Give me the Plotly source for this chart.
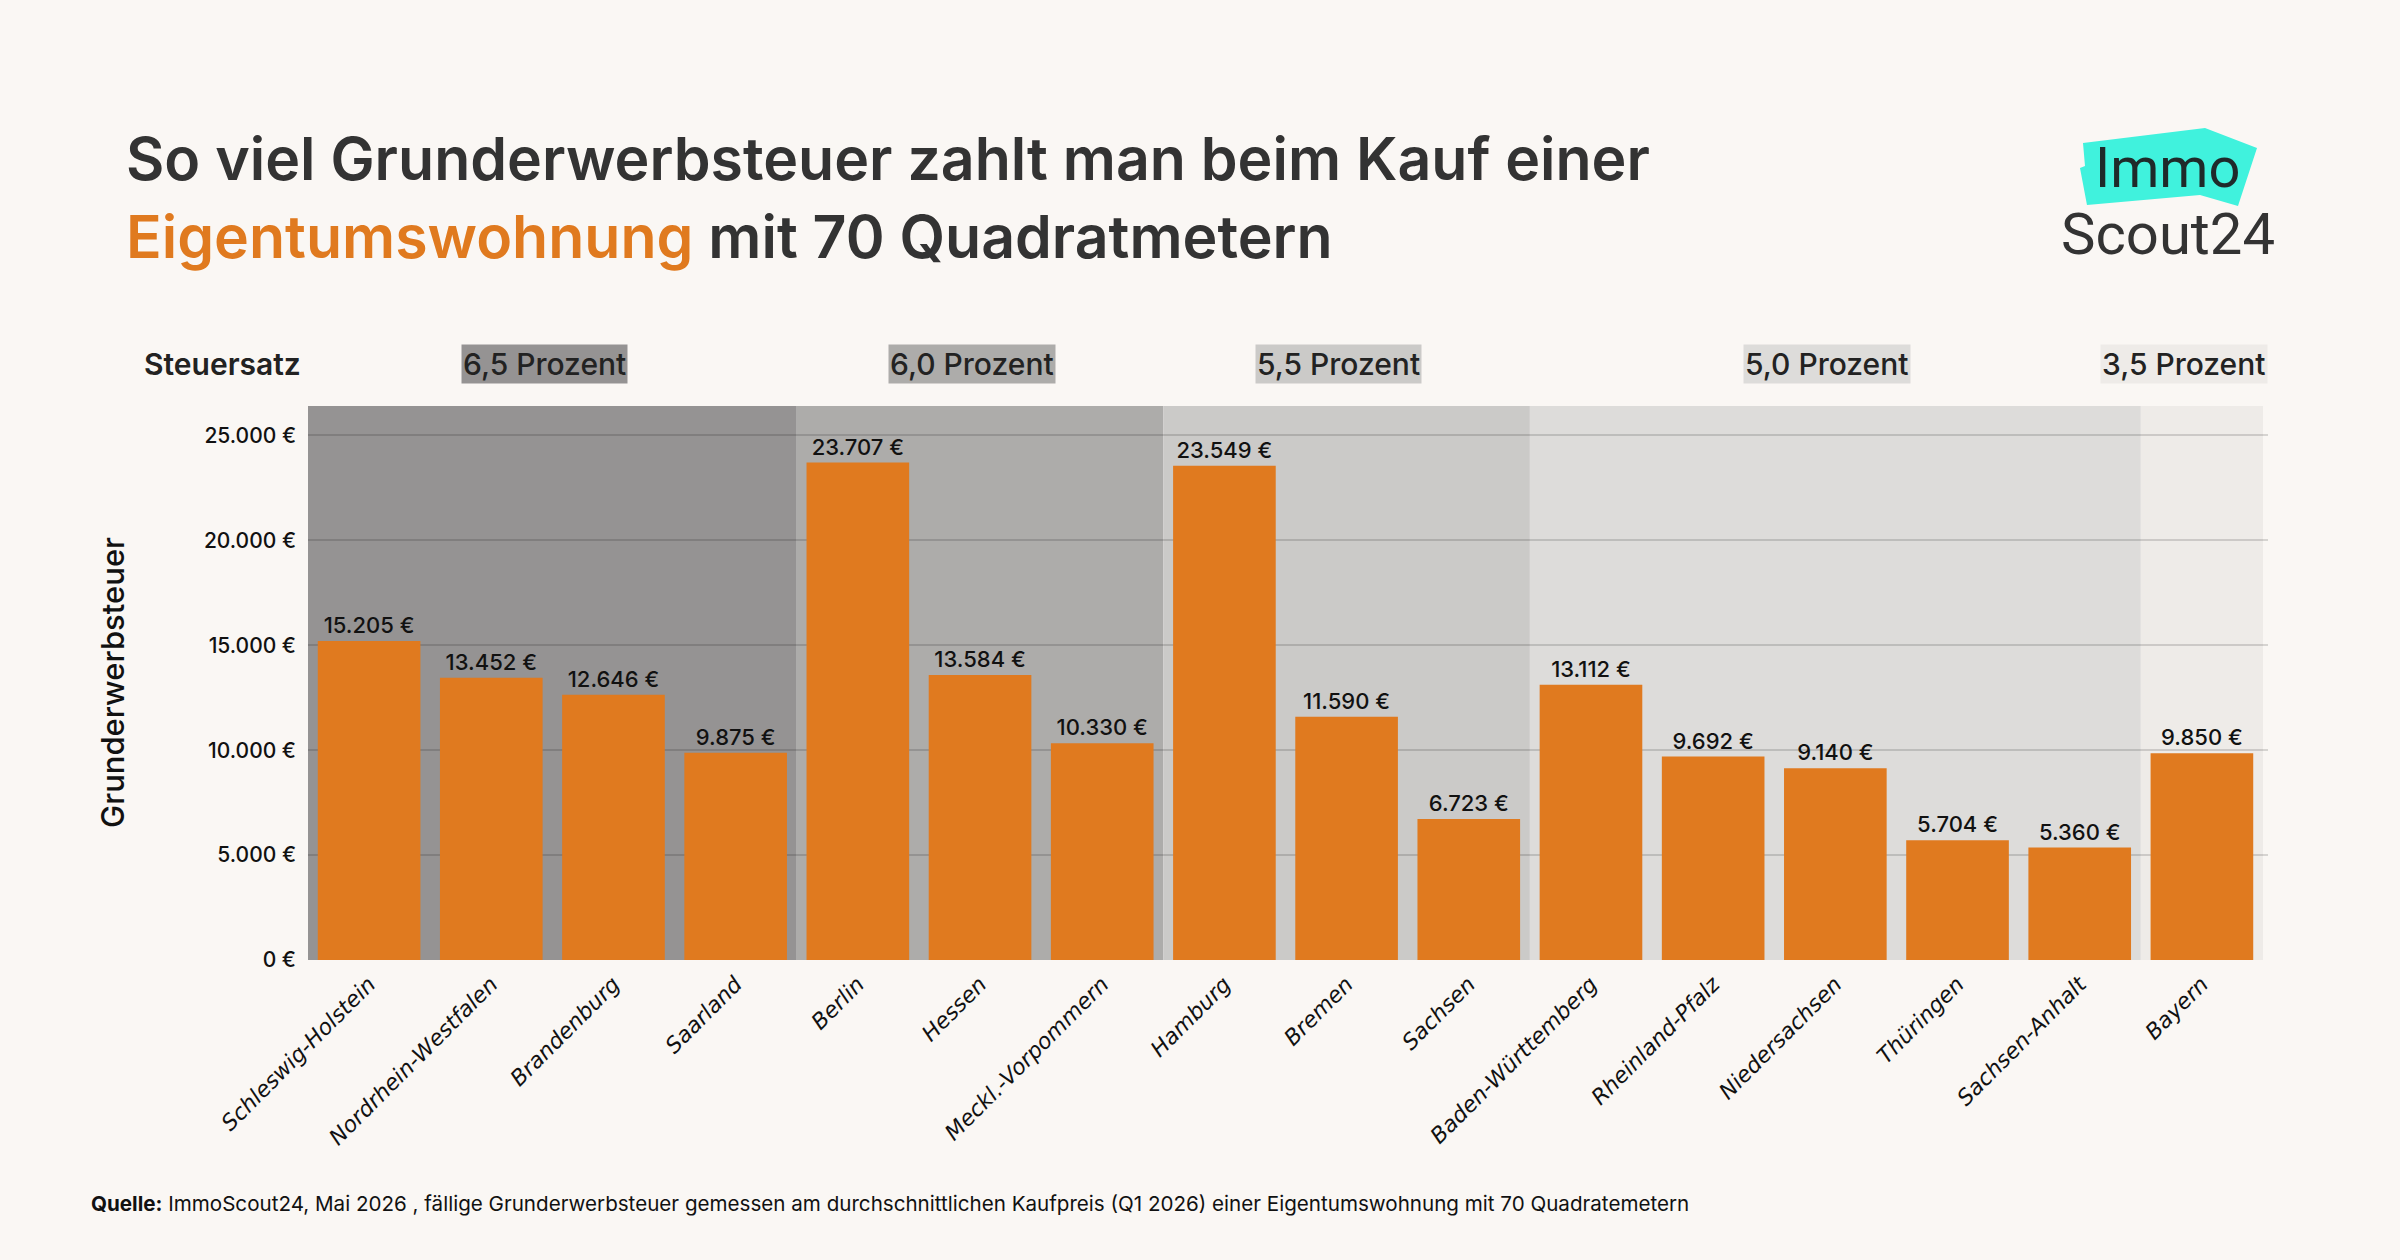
import plotly.graph_objects as go

# ---------------- data ----------------
states = ["Schleswig-Holstein", "Nordrhein-Westfalen", "Brandenburg", "Saarland",
          "Berlin", "Hessen", "Meckl.-Vorpommern",
          "Hamburg", "Bremen", "Sachsen",
          "Baden-Württemberg", "Rheinland-Pfalz", "Niedersachsen", "Thüringen", "Sachsen-Anhalt",
          "Bayern"]
tax_eur = [15205, 13452, 12646, 9875,
           23707, 13584, 10330,
           23549, 11590, 6723,
           13112, 9692, 9140, 5704, 5360,
           9850]
rate_labels = ["6,5 Prozent", "6,0 Prozent", "5,5 Prozent", "5,0 Prozent", "3,5 Prozent"]
rate_group_sizes = [4, 3, 3, 5, 1]
y_ticks = [0, 5000, 10000, 15000, 20000, 25000]
y_tick_text = [f"{v:,}".replace(",", ".") + " €" for v in y_ticks]

# ---------------- style ----------------
W, H = 2400, 1260
L, R, T, B = 308, 2268, 406, 960
BG = "#faf7f4"
ORANGE = "#e07a1f"
DARK = "#333333"
group_colors = ["#959393", "#adacaa", "#cbcac8", "#dddcda", "#eeebe8"]

def xp(px):
    return (px - L) / (R - L)

def yp(py):
    return (B - py) / (B - T)

fig = go.Figure()
fig.add_trace(go.Bar(
    x=states, y=tax_eur,
    marker=dict(color=ORANGE, line=dict(width=0)),
    texttemplate="%{y:,.0f} €", textposition="outside",
    textfont=dict(family="Inter", size=22, color="#111111", weight=500),
    cliponaxis=False,
))

shapes = []
annotations = []
start = 0
for i, (lab, n) in enumerate(zip(rate_labels, rate_group_sizes)):
    x0, x1 = start - 0.5, start + n - 0.5
    shapes.append(dict(type="rect", xref="x", yref="paper", x0=x0, x1=x1, y0=0, y1=1,
                       fillcolor=group_colors[i], line=dict(width=0), layer="below"))
    last = (i == len(rate_labels) - 1)
    annotations.append(dict(
        text=lab, xref="x", yref="paper",
        x=(x1 if last else (x0 + x1) / 2), y=yp(364),
        xanchor=("right" if last else "center"), yanchor="middle",
        xshift=(5 if last else -8),
        showarrow=False, bgcolor=group_colors[i], borderpad=1,
        font=dict(family="Inter", size=30, color="#222222", weight=500)))
    start += n

# Steuersatz label
annotations.append(dict(text="Steuersatz", xref="paper", yref="paper", x=xp(142), y=yp(364),
                        xanchor="left", yanchor="middle", showarrow=False,
                        font=dict(family="Inter", size=30, color="#222222", weight=600)))

# Title
annotations.append(dict(text="So viel Grunderwerbsteuer zahlt man beim Kauf einer",
                        xref="paper", yref="paper", x=xp(124), y=yp(158),
                        xanchor="left", yanchor="middle", showarrow=False,
                        font=dict(family="Inter", size=59, color=DARK, weight=600)))
annotations.append(dict(text=f"<span style='color:{ORANGE}'>Eigentumswohnung</span> mit 70 Quadratmetern",
                        xref="paper", yref="paper", x=xp(124), y=yp(236),
                        xanchor="left", yanchor="middle", showarrow=False,
                        font=dict(family="Inter", size=59, color=DARK, weight=600)))

# y-axis title
annotations.append(dict(text="Grunderwerbsteuer", xref="paper", yref="paper", x=xp(112), y=yp(683),
                        xanchor="center", yanchor="middle", textangle=-90, showarrow=False,
                        font=dict(family="Inter", size=31, color="#111111", weight=500)))

# Source
annotations.append(dict(
    text="<b>Quelle:</b> ImmoScout24, Mai 2026 , fällige Grunderwerbsteuer gemessen am durchschnittlichen Kaufpreis (Q1 2026) einer Eigentumswohnung mit 70 Quadratemetern",
    xref="paper", yref="paper", x=xp(89), y=yp(1203), xanchor="left", yanchor="middle",
    showarrow=False, font=dict(family="Inter", size=20.6, color="#111111")))

# Logo
poly = [(2083, 143), (2205, 128), (2257, 148), (2238, 206), (2200, 195),
        (2087, 205), (2080, 168), (2085, 166)]
path = "M " + " L ".join(f"{xp(a):.5f},{yp(b):.5f}" for a, b in poly) + " Z"
shapes.append(dict(type="path", xref="paper", yref="paper", path=path,
                   fillcolor="#40f2dd", line=dict(width=0), layer="above"))
annotations.append(dict(text="Immo", xref="paper", yref="paper", x=xp(2167), y=yp(168),
                        xanchor="center", yanchor="middle", showarrow=False,
                        font=dict(family="Roboto", size=56, color="#1f2a2a")))
annotations.append(dict(text="Scout24", xref="paper", yref="paper", x=xp(2168), y=yp(234),
                        xanchor="center", yanchor="middle", showarrow=False,
                        font=dict(family="Roboto", size=58, color=DARK)))

fig.update_layout(
    width=W, height=H,
    margin=dict(l=L, r=W - R, t=T, b=H - B, pad=0),
    paper_bgcolor=BG, plot_bgcolor="rgba(0,0,0,0)",
    separators=",.",
    showlegend=False,
    bargap=0.16,
    shapes=shapes, annotations=annotations,
    xaxis=dict(type="category", showgrid=False, zeroline=False, showline=False, ticks="",
               tickangle=-45, ticklabelstandoff=6,
               tickfont=dict(family="DejaVu Sans", size=22, color="#111111", style="italic")),
    yaxis=dict(range=[0, 26400], tickmode="array", tickvals=y_ticks, ticktext=y_tick_text,
               showgrid=True, gridcolor="rgba(0,0,0,0.14)", gridwidth=1.5,
               zeroline=False, showline=False, ticks="", ticklabelstandoff=11,
               tickfont=dict(family="Inter", size=21, color="#111111", weight=500)),
)

fig.write_html("out.html")
